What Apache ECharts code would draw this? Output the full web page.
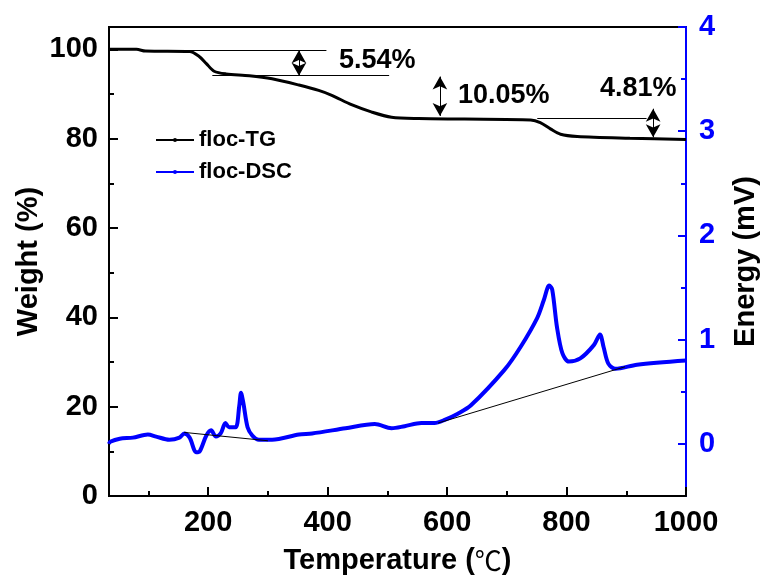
<!DOCTYPE html>
<html>
<head>
<meta charset="utf-8">
<script src="https://cdn.jsdelivr.net/npm/echarts@6/dist/echarts.min.js"></script>
<style>
html, body { margin: 0; padding: 0; background: #fff; }
#main { width: 768px; height: 583px; }
</style>
</head>
<body>
<div id="main"></div>
<script>
// TG curve (weight %, left axis)
const tgTemp   = [34, 80, 95, 169, 185, 197, 210, 230, 269, 307, 352, 385, 407, 440, 473, 507, 552, 629, 740, 756, 773, 790, 818, 906, 1000];
const tgWeight = [100, 100, 99.6, 99.5, 98.4, 96.8, 95.1, 94.5, 94.1, 93.4, 92.0, 90.8, 89.7, 87.6, 86.0, 84.8, 84.5, 84.4, 84.2, 83.6, 82.2, 81.0, 80.5, 80.1, 79.8];

// DSC curve (energy mV, right axis)
const dscTemp   = [34, 36, 52, 74, 99, 113, 135, 152, 160, 169, 180, 186, 197, 205, 213, 221, 229, 235, 246, 252, 255, 259, 266, 274, 285, 307, 352, 374, 430, 479, 507, 529, 557, 579, 596, 618, 640, 696, 723, 751, 762, 771, 776, 784, 793, 804, 823, 846, 856, 862, 870, 882, 918, 1000];
const dscEnergy = [0.0, 0.02, 0.05, 0.06, 0.09, 0.07, 0.04, 0.06, 0.10, 0.06, -0.08, -0.07, 0.08, 0.13, 0.07, 0.10, 0.20, 0.16, 0.16, 0.36, 0.49, 0.39, 0.16, 0.08, 0.04, 0.04, 0.09, 0.10, 0.15, 0.19, 0.15, 0.17, 0.20, 0.20, 0.23, 0.29, 0.37, 0.71, 0.93, 1.21, 1.38, 1.52, 1.48, 1.12, 0.87, 0.79, 0.82, 0.95, 1.05, 0.93, 0.77, 0.72, 0.76, 0.80];

// ticks
const xMajor = [200, 400, 600, 800, 1000];
const xMinor = [100, 300, 500, 700, 900];
const wMajor = [0, 20, 40, 60, 80, 100];
const wMinor = [10, 30, 50, 70, 90];
const eMajor = [0, 1, 2, 3, 4];
const eMinor = [0.5, 1.5, 2.5, 3.5];

// weight-loss steps: [x1, x2, y] reference lines
const stepLines = [[169, 398, 99.8], [207, 503, 94.1], [751, 934, 84.6]];
// double arrows: [x, yTop, yBottom]
const stepArrows = [[352, 99.8, 94.1], [588, 93.9, 85.1], [945, 86.7, 80.3]];
const stepLabels = ['5.54%', '10.05%', '4.81%'];
const stepLabelPos = [[483, 97.4], [695, 89.6], [920, 91.2]];

// DSC baselines: [x1, y1, x2, y2]
const dscBaselines = [[160, 0.11, 300, 0.03], [585, 0.20, 898, 0.74]];

const FONT = 'Liberation Sans';
const BLUE = '#0000ff';

const zip = (a, b) => a.map((v, i) => [v, b[i]]);

const markLineData = [];
stepLines.forEach(l => markLineData.push([{ coord: [l[0], l[2]] }, { coord: [l[1], l[2]] }]));
stepArrows.forEach(a => markLineData.push([
    { coord: [a[0], a[1]], symbol: 'arrow', symbolSize: [11, 13] },
    { coord: [a[0], a[2]], symbol: 'arrow', symbolSize: [11, 13] }
]));

const markPointData = stepLabels.map((t, i) => ({
    coord: stepLabelPos[i],
    value: t
}));

var myChart = echarts.init(document.getElementById('main'));
var option = {
    animation: false,
    backgroundColor: '#fff',
    grid: {
        left: 109, right: 78, top: 27, bottom: 87,
        show: true, borderColor: '#000', borderWidth: 2
    },
    legend: {
        orient: 'vertical',
        left: 150, top: 124,
        itemWidth: 38, itemHeight: 5, itemGap: 10,
        textStyle: { fontFamily: FONT, fontWeight: 'bold', fontSize: 22, color: '#000' },
        data: ['floc-TG', 'floc-DSC']
    },
    xAxis: [{
        type: 'value', min: 34, max: 1000,
        name: 'Temperature ({c|℃})',
        nameLocation: 'middle', nameGap: 50,
        nameTextStyle: {
            fontFamily: FONT, fontWeight: 'bold', fontSize: 29, color: '#000',
            rich: { c: { fontFamily: 'Noto Sans CJK SC', fontWeight: 'normal', fontSize: 27, color: '#000' } }
        },
        axisLine: { onZero: false, lineStyle: { color: '#000', width: 2 } },
        axisTick: { inside: true, length: 9, lineStyle: { color: '#000', width: 2 }, customValues: xMajor },
        axisLabel: { customValues: xMajor, margin: 12, formatter: v => String(v), fontFamily: FONT, fontWeight: 'bold', fontSize: 29, color: '#000' },
        splitLine: { show: false }
    }, {
        type: 'value', min: 34, max: 1000, position: 'bottom',
        axisLine: { show: false, onZero: false },
        axisTick: { show: true, inside: true, length: 5, lineStyle: { color: '#000', width: 2 }, customValues: xMinor },
        axisLabel: { show: false },
        splitLine: { show: false }
    }],
    yAxis: [{
        type: 'value', min: 0, max: 105, position: 'left',
        name: 'Weight (%)',
        nameLocation: 'middle', nameGap: 66, nameMoveOverlap: false,
        nameTextStyle: { fontFamily: FONT, fontWeight: 'bold', fontSize: 29, color: '#000' },
        axisLine: { show: true, onZero: false, lineStyle: { color: '#000', width: 2 } },
        axisTick: { show: true, inside: true, length: 9, lineStyle: { color: '#000', width: 2 }, customValues: wMajor },
        axisLabel: { customValues: wMajor, margin: 11, fontFamily: FONT, fontWeight: 'bold', fontSize: 29, color: '#000' },
        splitLine: { show: false }
    }, {
        type: 'value', min: -0.5, max: 4, position: 'right',
        name: 'Energy (mV)',
        nameLocation: 'middle', nameGap: 45,
        nameTextStyle: { fontFamily: FONT, fontWeight: 'bold', fontSize: 29, color: '#000' },
        axisLine: { show: true, onZero: false, lineStyle: { color: BLUE, width: 2 } },
        axisTick: { show: true, inside: true, length: 8, lineStyle: { color: BLUE, width: 2 }, customValues: eMajor },
        axisLabel: { customValues: eMajor, margin: 13, fontFamily: FONT, fontWeight: 'bold', fontSize: 29, color: BLUE },
        splitLine: { show: false }
    }, {
        type: 'value', min: 0, max: 105, position: 'left',
        axisLine: { show: false, onZero: false },
        axisTick: { show: true, inside: true, length: 5, lineStyle: { color: '#000', width: 2 }, customValues: wMinor },
        axisLabel: { show: false },
        splitLine: { show: false }
    }, {
        type: 'value', min: -0.5, max: 4, position: 'right',
        axisLine: { show: false, onZero: false },
        axisTick: { show: true, inside: true, length: 5, lineStyle: { color: BLUE, width: 2 }, customValues: eMinor },
        axisLabel: { show: false },
        splitLine: { show: false }
    }],
    series: [{
        name: 'floc-TG',
        type: 'line',
        xAxisIndex: 0, yAxisIndex: 0,
        data: zip(tgTemp, tgWeight),
        smooth: 0.3,
        symbol: 'circle', symbolSize: 5, showSymbol: false,
        itemStyle: { color: '#000' },
        lineStyle: { color: '#000', width: 3 },
        markLine: {
            silent: true,
            symbol: ['none', 'none'],
            label: { show: false },
            lineStyle: { color: '#000', width: 1, type: 'solid' },
            data: markLineData
        },
        markPoint: {
            silent: true,
            symbol: 'circle', symbolSize: 0,
            label: {
                show: true, position: 'inside',
                formatter: p => p.value,
                fontFamily: FONT, fontWeight: 'bold', fontSize: 27, color: '#000'
            },
            data: markPointData
        }
    }, {
        name: 'floc-DSC',
        type: 'line',
        xAxisIndex: 0, yAxisIndex: 1,
        data: zip(dscTemp, dscEnergy),
        smooth: 0.3,
        symbol: 'circle', symbolSize: 5, showSymbol: false,
        itemStyle: { color: BLUE },
        lineStyle: { color: BLUE, width: 4 },
        markLine: {
            silent: true,
            symbol: ['none', 'none'],
            label: { show: false },
            lineStyle: { color: '#000', width: 1, type: 'solid' },
            data: dscBaselines.map(b => [{ coord: [b[0], b[1]] }, { coord: [b[2], b[3]] }])
        }
    }]
};
myChart.setOption(option);
</script>
</body>
</html>
